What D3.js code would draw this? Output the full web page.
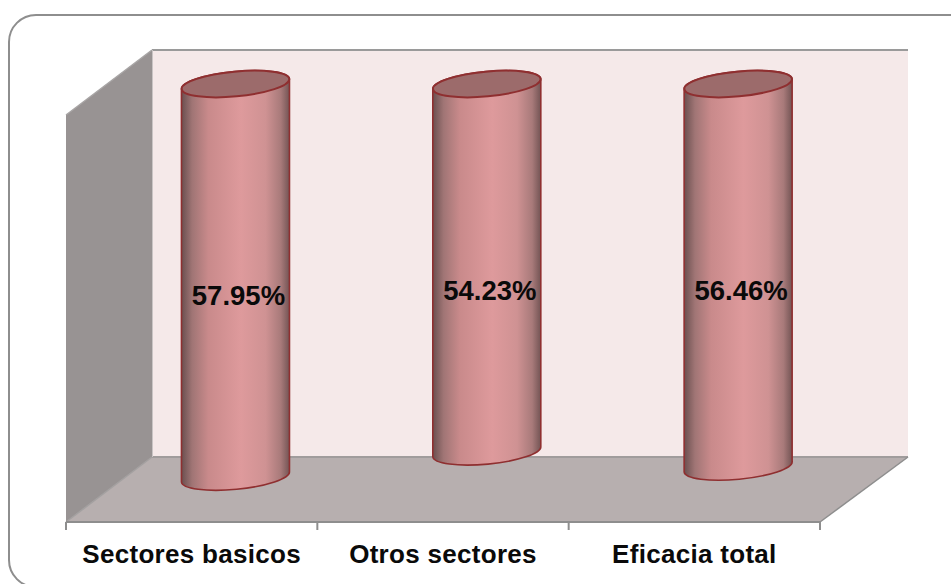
<!DOCTYPE html>
<html><head><meta charset="utf-8">
<script src="https://cdn.jsdelivr.net/npm/d3@7"></script>
<style>html,body{margin:0;padding:0;background:#fff;overflow:hidden}svg{display:block}</style>
</head><body><svg id="c" width="951" height="584"></svg>
<script>
const categories = ["Sectores basicos", "Otros sectores", "Eficacia total"];
const values = [57.95, 54.23, 56.46];
const valueLabels = ["57.95%", "54.23%", "56.46%"];

const W = 951, H = 584;
const svg = d3.select("#c");
const x0 = 66, x1 = 820, yFloorFront = 522;
const dx = 87, dy = -65, wallTop = 50;
const x = d3.scaleBand().domain(categories).range([x0, x1]).paddingInner(0).paddingOuter(0);
// Value axis runs downward from the top of the cylinders
const y = d3.scaleLinear().domain([0, 60]).range([84, 84 + 60 * 6.78]);
const barW = 108, rx = barW / 2, ry = 12.4, tilt = -5.4;
const slope = Math.tan(tilt * Math.PI / 180) * rx;
const barOffset = 43.8;

// frame
svg.append("rect").attr("x", 9).attr("y", 15).attr("width", 1000).attr("height", 572)
  .attr("rx", 27).attr("fill", "#fff").attr("stroke", "#8e8e8e").attr("stroke-width", 2);

const defs = svg.append("defs");
const g = defs.append("linearGradient").attr("id", "cyl").attr("x1", 0).attr("x2", 1).attr("y1", 0).attr("y2", 0);
[[0, "#6a4f4f"], [0.1, "#a07575"], [0.25, "#c98a8b"], [0.55, "#de9a9c"], [0.78, "#cf9293"], [0.92, "#a87a7a"], [1, "#735454"]]
  .forEach(s => g.append("stop").attr("offset", s[0]).attr("stop-color", s[1]));

const poly = (pts, fill) => svg.append("polygon").attr("points", pts.map(p => p.join(",")).join(" ")).attr("fill", fill);
const yFloorBack = yFloorFront + dy;
poly([[x0 + dx - 1, wallTop], [x1 + dx + 1, wallTop], [x1 + dx + 1, yFloorBack], [x0 + dx - 1, yFloorBack]], "#f5e9e9");
poly([[x0, yFloorFront], [x0 + dx - 1, yFloorBack], [x0 + dx - 1, wallTop], [x0, wallTop - dy]], "#989393");
poly([[x0, yFloorFront], [x1, yFloorFront], [x1 + dx + 1, yFloorBack], [x0 + dx - 1, yFloorBack]], "#b7afaf");

const line = (a, b, c, w) => svg.append("line").attr("x1", a[0]).attr("y1", a[1]).attr("x2", b[0]).attr("y2", b[1]).attr("stroke", c).attr("stroke-width", w);
line([x0 + dx - 1, wallTop], [x1 + dx + 1, wallTop], "#9a9a9a", 2);
line([x0 + dx - 1, yFloorBack], [x1 + dx + 1, yFloorBack], "#a09c9c", 2);
line([x0, yFloorFront], [x0 + dx - 1, yFloorBack], "#a3a0a0", 1.5);
line([x1, yFloorFront], [x1 + dx + 1, yFloorBack], "#8e8e8e", 1.5);
line([x0, wallTop - dy], [x0 + dx - 1, wallTop], "#a8a5a5", 1.5);
line([x0 + dx - 0.5, wallTop], [x0 + dx - 0.5, yFloorBack], "#c9c4c4", 1);

// axis
const axis = svg.append("g");
line([x0, yFloorFront], [x1, yFloorFront], "#8e8e8e", 2);
[x0].concat(categories.map(c => x(c) + x.bandwidth())).forEach(t => line([t, yFloorFront], [t, yFloorFront + 8], "#8e8e8e", 2));
axis.selectAll("text").data(categories).join("text")
  .attr("x", d => x(d) + x.bandwidth() / 2).attr("y", 562.5)
  .attr("text-anchor", "middle")
  .attr("font-family", "Liberation Sans").attr("font-weight", "bold").attr("font-size", 26)
  .attr("letter-spacing", 0.3)
  .attr("fill", "#0a0a0a").text(d => d);

// cylinders
const cx = d => x(d) + x.bandwidth() / 2 + barOffset;
const bars = svg.selectAll("g.bar").data(categories.map((c, i) => ({ c, v: values[i], l: valueLabels[i] })))
  .join("g").attr("class", "bar");
bars.append("path")
  .attr("d", d => {
    const c = cx(d.c), t = y(0), b = y(d.v);
    return `M${c - rx},${t - slope}` +
      `A${rx},${ry} ${tilt} 0 1 ${c + rx},${t + slope}` +
      `L${c + rx},${b + slope}` +
      `A${rx},${ry} ${tilt} 0 1 ${c - rx},${b - slope}Z`;
  })
  .attr("fill", "url(#cyl)").attr("stroke", "#8f2f30").attr("stroke-width", 1.6);
bars.append("ellipse")
  .attr("cx", d => cx(d.c)).attr("cy", y(0)).attr("rx", rx).attr("ry", ry)
  .attr("transform", d => `rotate(${tilt} ${cx(d.c)} ${y(0)})`)
  .attr("fill", "#9c6b6b").attr("stroke", "#8f2f30").attr("stroke-width", 2);

const labelBase = [304.5, 299.5, 299.5];
bars.append("text")
  .attr("x", d => cx(d.c) + 3).attr("y", (d, i) => labelBase[i])
  .attr("text-anchor", "middle")
  .attr("font-family", "Liberation Sans").attr("font-weight", "bold").attr("font-size", 27.5)
  .attr("fill", "#0a0a0a").text(d => d.l);
</script></body></html>
